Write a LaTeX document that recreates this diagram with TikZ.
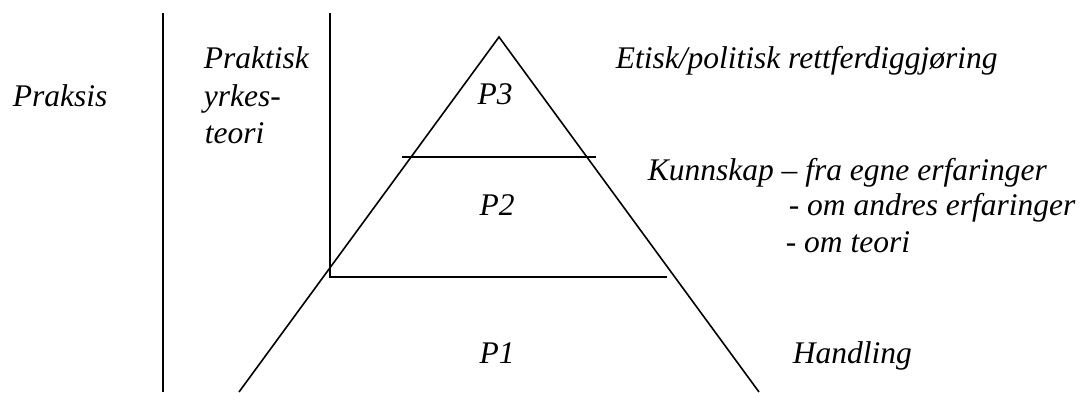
\documentclass[tikz,border=0pt]{standalone}
\usepackage{fontspec}
\setmainfont{Liberation Serif}
\begin{document}
\begin{tikzpicture}[x=1pt,y=-1pt,line width=1.6pt,font=\fontsize{31.5}{37}\selectfont\itshape,
  lbl/.style={anchor=base west,inner sep=0pt},
  plbl/.style={anchor=base,inner sep=0pt}]
\useasboundingbox (0,0) rectangle (1080,392);
\coordinate (top) at (499,37);\coordinate (bl) at (239,392);\coordinate (br) at (759,392);
\coordinate (v1a) at (163,13);\coordinate (v1b) at (163,392);\coordinate (v2a) at (330,13);\coordinate (v2b) at (330,277);
\coordinate (h1a) at (402,157);\coordinate (h1b) at (596,157);\coordinate (h2b) at (667,277);
\draw (bl)--(top)--(br);\draw (v1a)--(v1b);\draw (v2a)--(v2b)--(h2b);\draw (h1a)--(h1b);
\node[lbl] (praksis) at (12,106){Praksis};
\node[lbl] (praktisk) at (203,68){Praktisk};\node[lbl] (yrkes) at (203,106){yrkes-};\node[lbl] (yteori) at (204,143){teori};
\node[plbl] (p3) at (495,104){P3};\node[plbl] (p2) at (497,215){P2};\node[plbl] (p1) at (497,363){P1};
\node[lbl] (etisk) at (615,68){Etisk/politisk rettferdiggjøring};
\node[lbl] (kunnskap) at (647,180){Kunnskap -- fra egne erfaringer};
\node[lbl] (andres) at (788,215){- om andres erfaringer};
\node[lbl] (teori) at (785,252){- om teori};
\node[lbl] (handling) at (792,363){Handling};
\end{tikzpicture}
\end{document}
